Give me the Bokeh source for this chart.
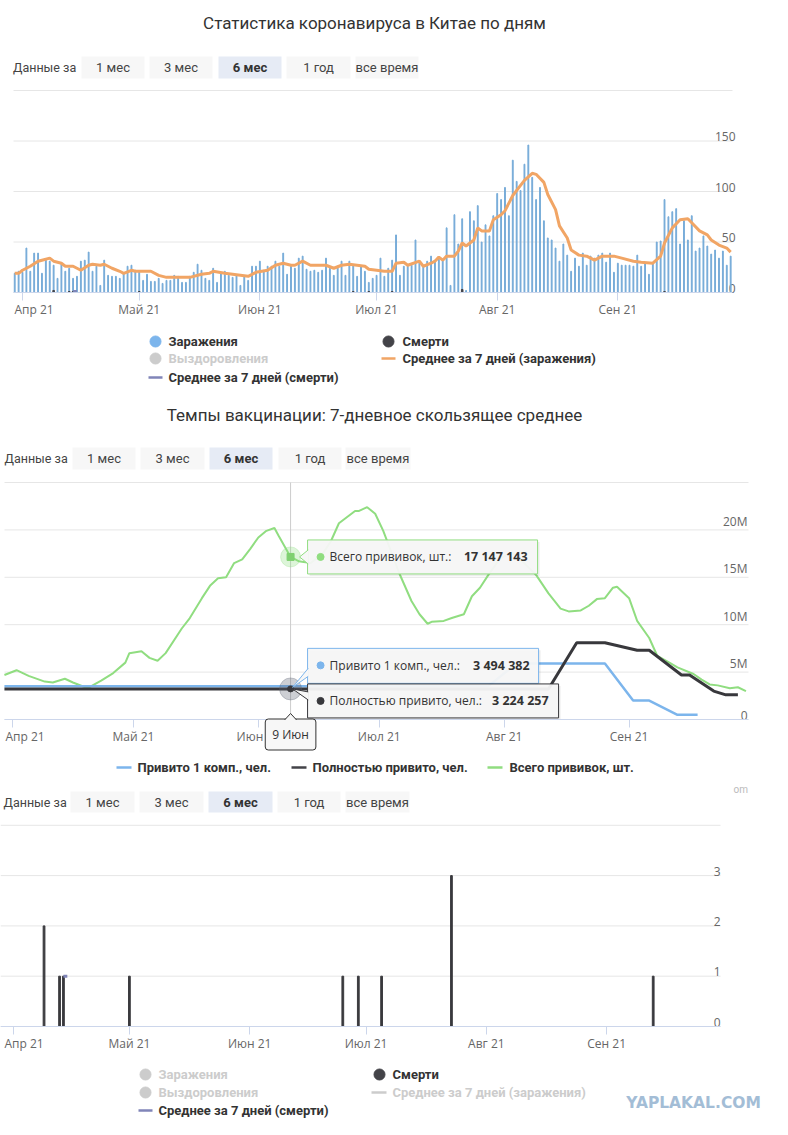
import pandas as pd
from bokeh.plotting import figure
from bokeh.models import Range1d, FixedTicker, Label, LinearAxis
from bokeh.core.properties import value
from bokeh.embed import file_html
from bokeh.resources import INLINE

# ======================= DATA =======================
BASE_DATE = "2021-04-01"
month_starts = ["2021-04-01", "2021-05-01", "2021-06-01", "2021-07-01", "2021-08-01", "2021-09-01"]
month_labels = ["Апр 21", "Май 21", "Июн 21", "Июл 21", "Авг 21", "Сен 21"]

title_cases = "Статистика коронавируса в Китае по дням"
title_vacc = "Темпы вакцинации: 7-дневное скользящее среднее"
period_caption = "Данные за"
period_labels = ["1 мес", "3 мес", "6 мес", "1 год", "все время"]
period_selected = "6 мес"

# daily new cases, one value per day starting at cases_start
cases_start = "2021-03-30"
cases = [19, 21, 20, 44, 21, 39, 39, 19, 32, 31, 27, 14, 29, 21, 24, 14, 16, 31, 32, 40,
         21, 26, 7, 32, 17, 16, 16, 14, 19, 26, 27, 22, 21, 12, 18, 11, 11, 14, 9, 12,
         12, 17, 16, 10, 10, 16, 20, 28, 22, 14, 12, 24, 10, 19, 21, 17, 15, 17, 7, 16,
         12, 26, 26, 31, 22, 26, 26, 31, 26, 39, 18, 26, 24, 34, 36, 23, 21, 22, 20, 22,
         34, 24, 17, 26, 31, 17, 31, 27, 16, 26, 21, 10, 14, 17,
         34, 16, 24, 32, 57, 17, 26, 26, 27, 52, 31, 26, 31, 36, 31, 33, 32, 64, 7, 77,
         48, 73, 2, 80, 71, 86, 50, 67, 56, 76, 98, 92, 104, 76, 131, 110, 101, 127, 146, 114,
         92, 104, 71, 54, 52, 44, 31, 48, 37, 21, 34, 26, 39, 27, 36, 34, 37, 39, 30, 39,
         20, 29, 27, 27, 27, 26, 37, 26, 29, 18, 29, 50, 51, 92, 75, 80, 83, 48, 71, 52,
         76, 41, 44, 56, 46, 38, 42, 34, 41, 27, 36]
# 7-day average of cases (day index from cases_start, value)
cases_avg_idx = [0, 1, 2, 4, 6, 7, 9, 10, 12, 13, 15, 17, 19, 20, 22, 23, 25, 27, 28, 30,
                 31, 33, 35, 37, 39, 42, 45, 48, 50, 51, 54, 56, 58, 60, 62, 65, 67, 69, 71, 72,
                 74, 76, 78, 80, 82, 84, 86, 88, 90, 91, 93, 95, 96, 97, 98, 100, 101, 104, 105, 107,
                 108, 109, 110, 111, 113, 114, 115, 116, 118, 119, 120, 122, 123, 125, 126, 128, 130, 131, 133, 134,
                 136, 137, 139, 140, 142, 143, 145, 147, 149, 151, 154, 156, 159, 161, 164, 166, 167, 169, 171, 173,
                 174, 176, 178, 179, 181, 183, 184]
cases_avg = [19, 19, 22, 26, 31, 32, 34, 31, 29, 26, 26, 22, 27, 28, 27, 28, 24, 21, 19, 22,
             21, 21, 21, 17, 15, 15, 15, 18, 19, 21, 19, 18, 17, 16, 20, 22, 27, 29, 27, 27,
             31, 27, 27, 27, 24, 27, 28, 27, 26, 23, 22, 21, 21, 21, 29, 30, 27, 31, 26, 29,
             31, 35, 32, 36, 36, 41, 49, 46, 52, 64, 61, 61, 72, 77, 81, 96, 106, 111, 118, 117,
             109, 97, 82, 66, 54, 42, 37, 36, 32, 36, 36, 34, 31, 30, 29, 36, 49, 64, 72, 73,
             69, 61, 57, 52, 47, 44, 40]
deaths_dates = ["2021-04-09", "2021-04-13", "2021-04-14", "2021-05-01", "2021-06-25",
                "2021-06-29", "2021-07-05", "2021-07-23", "2021-09-13"]
deaths = [2, 1, 1, 1, 1, 1, 1, 3, 1]
deaths_avg_dates = ["2021-04-14", "2021-04-15"]
deaths_avg = [1.0, 1.0]
cases_ticks = [0, 50, 100, 150, 200]
cases_tick_labels = ["0", "50", "100", "150", ""]
deaths_ticks = [0, 1, 2, 3, 4]
deaths_tick_labels = ["0", "1", "2", "3", ""]

cases_legend = ["Заражения", "Выздоровления", "Среднее за 7 дней (смерти)",
                "Смерти", "Среднее за 7 дней (заражения)"]

# vaccination, 7-day moving average, millions (x = days since 1 Apr 2021)
vac_names = ["Привито 1 комп., чел.", "Полностью привито, чел.", "Всего прививок, шт."]
vac_total_day = [-2, 1, 4, 8, 10, 13, 15, 18, 19, 22, 25, 28, 29, 32, 34, 36, 38, 42, 44, 47,
                 49, 51, 53, 55, 57, 59, 61, 63, 65, 66, 69, 71, 74, 77, 79, 81, 85, 86, 88, 90,
                 92, 96, 99, 101, 103, 104, 107, 109, 112, 114, 116, 118, 121, 124, 127, 130, 133, 136, 138, 141,
                 143, 145, 147, 149, 150, 153, 155, 158, 160, 163, 165, 169, 171, 173, 175, 178, 180, 182]
vac_total = [4.7, 5.2, 4.6, 4.0, 3.9, 4.3, 3.9, 3.4, 3.4, 4.1, 4.9, 6.0, 7.0, 7.2, 6.5, 6.2, 7.0, 9.6, 10.7, 12.8,
             14.1, 14.9, 15.0, 16.5, 16.9, 18.0, 19.2, 19.9, 20.2, 19.4, 17.147143, 16.7, 16.5, 17.5, 18.8, 20.7, 22.0, 22.0, 22.4, 21.7,
             19.9, 15.4, 12.5, 11.1, 10.1, 10.3, 10.4, 10.7, 11.1, 13.0, 13.9, 15.2, 17.0, 17.6, 16.5, 15.2, 13.3, 11.7, 11.4, 11.5,
             12.0, 12.7, 12.8, 13.9, 14.0, 12.8, 10.4, 8.6, 6.7, 6.0, 5.5, 4.8, 4.2, 3.7, 3.6, 3.3, 3.4, 3.0]
vac_first_day = [-2, 118, 125, 147, 154, 158, 165, 170]
vac_first = [3.494382, 3.494382, 5.9, 5.9, 2.0, 2.0, 0.5, 0.5]
vac_full_day = [-2, 133, 140, 147, 155, 158, 166, 168, 174, 177, 180]
vac_full = [3.224257, 3.224257, 8.1, 8.1, 7.3, 7.3, 4.7, 4.7, 3.0, 2.6, 2.6]
vac_ticks = [0, 5, 10, 15, 20, 25]
vac_tick_labels = ["0", "5M", "10M", "15M", "20M", ""]

tip_date = "2021-06-09"
tip_date_label = "9 Июн"
tip_total = 17147143
tip_first = 3494382
tip_full = 3224257

watermark = "YAPLAKAL.COM"

# ======================= STYLE / LAYOUT =======================
C_BAR = "#76abd8"
C_BLUE = "#7cb5ec"
C_DARK = "#434348"
C_ORANGE = "#f1a565"
C_PURPLE = "#8085b8"
C_GREEN = "#90dd80"
C_GRAY = "#cccccc"
F_UI = "Roboto"
F_AX = "Open Sans"

# page box drawn by the single figure (page pixel coordinates)
P_L, P_R, P_T, P_B = 0, 786, 0, 1128


def day(s):
    return (pd.Timestamp(s) - pd.Timestamp(BASE_DATE)).days


month_pos = [day(m) for m in month_starts]

p = figure(frame_width=P_R - P_L, frame_height=P_B - P_T,
           x_range=Range1d(P_L, P_R), y_range=Range1d(P_B, P_T),
           min_border=0, x_axis_location=None, y_axis_location=None, title=None,
           toolbar_location=None, output_backend="svg")
p.outline_line_color = None
p.grid.visible = False

# each chart: (x page of day 0, px per day, y page of value 0, px per unit)
bands = {
    "t": (22.0, 3.891, 292.0, 1.01),
    "m": (12.0, 4.03, 719.0, 9.48),
    "b": (12.5, 3.88, 1026.0, 50.3),
}
xr, yr = {}, {}
for n, (x0, ppd_, y0, ppu_) in bands.items():
    xr[n] = Range1d((P_L - x0) / ppd_, (P_R - x0) / ppd_)
    yr[n] = Range1d(-(P_B - y0) / ppu_, (y0 - P_T) / ppu_)
p.extra_x_ranges = xr
p.extra_y_ranges = yr


def dx(n, page_x):
    x0, ppd_, _, _ = bands[n]
    return (page_x - x0) / ppd_


def dy(n, px_below_zero):
    return -px_below_zero / bands[n][3]


def R(n):
    return dict(x_range_name=n, y_range_name=n)


def chart_frame(n, left_px, right_px, label_px, first_label_px, yticks, ylabels):
    lo, hi = dx(n, left_px), dx(n, right_px)
    k = len(yticks)
    p.segment(x0=[lo] * k, x1=[hi] * k, y0=yticks, y1=yticks, line_color="#e6e6e6",
              line_width=1, level="underlay", **R(n))
    # first month label is kept inside the plot (as the original does), others centred on ticks
    overrides = dict(zip(month_pos, month_labels))
    overrides[month_pos[0]] = ""
    ax = LinearAxis(fixed_location=0, ticker=FixedTicker(ticks=month_pos),
                    major_label_overrides=overrides, bounds=(lo, hi), **R(n))
    ax.axis_line_color = "#ccd6eb"
    ax.major_tick_line_color = "#ccd6eb"
    ax.major_tick_in = 0
    ax.major_tick_out = 8
    ax.minor_tick_line_color = None
    ax.major_label_standoff = 0
    ax.major_label_text_font = F_AX
    ax.major_label_text_font_size = "12px"
    ax.major_label_text_color = "#666666"
    p.add_layout(ax, "below")
    p.text(x=[dx(n, first_label_px)], y=[dy(n, 8)], text=[month_labels[0]], text_font=value(F_AX),
           text_font_size="12px", text_color="#666666", text_align="left", text_baseline="top", **R(n))
    keep = [(t, s) for t, s in zip(yticks, ylabels) if s]
    p.text(x=[dx(n, label_px)] * len(keep), y=[t for t, _ in keep], text=[s for _, s in keep],
           text_font=value(F_AX), text_font_size="12px", text_color="#666666",
           text_align="right", text_baseline="bottom", **R(n))


def txt(x, y, s, size="13px", color="#333333", bold=False, align="left", font=F_UI):
    p.text(x=[x], y=[y], text=[s], text_font=value(font), text_font_size=size, text_color=color,
           text_font_style="bold" if bold else "normal", text_align=align, text_baseline="middle")


def period_bar(cap_x, boxes, y0, y1):
    yc = (y0 + y1) / 2
    txt(cap_x, yc, period_caption, size="12.5px", color="#444444")
    for (l, r), lab in zip(boxes, period_labels):
        sel = lab == period_selected
        p.quad(left=l, right=r, top=y0, bottom=y1, fill_color="#e6ebf5" if sel else "#f7f7f7", line_color=None)
        txt((l + r) / 2, yc, lab, bold=sel, align="center", color="#333333" if sel else "#444444")


def leg_dot(x, y, color):
    p.scatter(x=[x], y=[y], size=11, color=color)


def leg_line(x0, x1, y, color):
    p.segment(x0=[x0], y0=[y], x1=[x1], y1=[y], line_color=color, line_width=2.5)


LEG = "13px"

# ---------- header 1 ----------
txt(374, 22, title_cases, size="17px", align="center")
period_bar(12.5, [(81, 144), (149, 212), (218, 281), (286, 350), (355, 418)], 56, 78)

# ---------- cases chart ----------
chart_frame("t", 13, 732, 735, 14, cases_ticks, cases_tick_labels)
c0 = day(cases_start)
p.vbar(x=[c0 + i for i in range(len(cases))], top=cases, bottom=0, width=0.22, color=C_BAR, **R("t"))
p.vbar(x=[day(d) for d in deaths_dates], top=deaths, bottom=0, width=0.4, color=C_DARK, **R("t"))
p.line(x=[c0 + i for i in cases_avg_idx], y=cases_avg, line_color=C_ORANGE, line_width=3, **R("t"))
p.line(x=[day(d) for d in deaths_avg_dates], y=deaths_avg, line_color=C_PURPLE, line_width=3, **R("t"))

# ---------- legend 1 + header 2 ----------
leg_dot(155, 341, C_BLUE)
txt(168, 341, cases_legend[0], size=LEG, bold=True)
leg_dot(155, 358, C_GRAY)
txt(168, 358, cases_legend[1], size=LEG, bold=True, color=C_GRAY)
leg_line(148, 162, 377, C_PURPLE)
txt(168, 377, cases_legend[2], size=LEG, bold=True)
leg_dot(388, 341, C_DARK)
txt(402, 341, cases_legend[3], size=LEG, bold=True)
leg_line(381, 395, 358, C_ORANGE)
txt(402, 358, cases_legend[4], size=LEG, bold=True)
txt(374, 414, title_vacc, size="17px", align="center")
period_bar(4, [(72, 135), (140, 204), (209, 272), (278, 341), (345, 410)], 447, 469)

# ---------- vaccination chart ----------
chart_frame("m", 4, 748, 747, 5, vac_ticks, vac_tick_labels)
tip_d = day(tip_date)
p.segment(x0=[tip_d], x1=[tip_d], y0=[0], y1=[25], line_color="#cccccc", line_width=1, level="underlay", **R("m"))
p.line(x=vac_total_day, y=vac_total, line_color=C_GREEN, line_width=2, **R("m"))
p.line(x=vac_first_day, y=vac_first, line_color=C_BLUE, line_width=2.5, **R("m"))
p.line(x=vac_full_day, y=vac_full, line_color="#38383c", line_width=3, **R("m"))

PPD, PPV = bands["m"][1], bands["m"][3]


def ox(px):
    return tip_d + px / PPD


def oy(v, px):
    return v - px / PPV


g, b, k = tip_total / 1e6, tip_first / 1e6, tip_full / 1e6
p.scatter(x=[tip_d], y=[g], size=20, color=C_GREEN, alpha=0.3, **R("m"))
p.scatter(x=[tip_d], y=[g], size=7, marker="square", color="#7fd070", **R("m"))
p.scatter(x=[tip_d], y=[k], size=22, color="#5a6070", alpha=0.3, **R("m"))
p.scatter(x=[tip_d], y=[k], size=6, color="#38383c", **R("m"))


def fmt(num):
    return f"{num:,}".replace(",", " ")


def tooltip(v, top, bottom, right, color, label, num, bdy, vright, pointer):
    p.quad(left=ox(19), right=ox(right + 2), top=oy(v, top + 2), bottom=oy(v, bottom + 2),
           fill_color="#000000", fill_alpha=0.07, line_color=None, **R("m"))
    p.quad(left=ox(17), right=ox(right), top=oy(v, top), bottom=oy(v, bottom),
           fill_color="#f7f7f7", fill_alpha=0.95, line_color=color, line_width=1, **R("m"))
    xs = [ox(a) for a, _ in pointer]
    ys = [oy(v, c) for _, c in pointer]
    p.patch(x=xs, y=ys, fill_color="#f7f7f7", line_color=None, **R("m"))
    p.line(x=xs, y=ys, line_color=color, line_width=1, **R("m"))
    p.scatter(x=[ox(30)], y=[oy(v, bdy)], size=7, color=color, **R("m"))
    p.text(x=[ox(39)], y=[oy(v, bdy)], text=[label + ":"], text_font=value(F_AX), text_font_size="12px",
           text_color="#333333", text_align="left", text_baseline="middle", **R("m"))
    p.text(x=[ox(vright)], y=[oy(v, bdy)], text=[fmt(num)], text_font=value(F_AX), text_font_size="12.5px",
           text_font_style="bold", text_color="#333333", text_align="right", text_baseline="middle", **R("m"))


tooltip(g, -17, 17, 247, C_GREEN, vac_names[2], tip_total, 0, 237, [(17.6, -7), (9, 0), (17.6, 7)])
tooltip(b, -38, -3, 248, C_BLUE, vac_names[0], tip_first, -21, 239, [(17.6, -18), (2, 1), (17.6, -10)])
tooltip(k, -5, 29, 268, "#38383c", vac_names[1], tip_full, 12, 258, [(17.6, 3), (2, 0), (17.6, 11)])

p.add_layout(Label(x=tip_d, y=oy(0, 15), text=tip_date_label, text_align="center", text_baseline="middle",
                   text_font="Open Sans", text_font_size="12px", text_color="#333333",
                   background_fill_color="#f7f7f7", border_line_color="#333333", border_line_width=1,
                   padding=7, border_radius=3, **R("m")))
dxs = [ox(-6), ox(0), ox(6)]
dys = [oy(0, 0.5), oy(0, -6), oy(0, 0.5)]
p.patch(x=dxs, y=dys, fill_color="#f7f7f7", line_color=None, level="overlay", **R("m"))
p.line(x=dxs, y=dys, line_color="#333333", line_width=1, level="overlay", **R("m"))

# ---------- legend 2 + header 3 ----------
leg_line(116, 131, 767, C_BLUE)
txt(137, 767, vac_names[0], size=LEG, bold=True)
leg_line(291, 306, 767, C_DARK)
txt(312, 767, vac_names[1], size=LEG, bold=True)
leg_line(487, 502, 767, C_GREEN)
txt(509, 767, vac_names[2], size=LEG, bold=True)
txt(733, 789, "om", size="10px", color="#bbbbbb")
period_bar(3, [(70, 134), (139, 203), (208, 272), (277, 340), (345, 409)], 791, 812)

# ---------- deaths chart ----------
chart_frame("b", 0, 720, 720, 4, deaths_ticks, deaths_tick_labels)
p.vbar(x=[day(d) for d in deaths_dates], top=deaths, bottom=0, width=0.45, color="#3a3a3e", **R("b"))
p.line(x=[day(d) for d in deaths_avg_dates], y=deaths_avg, line_color=C_PURPLE, line_width=3, **R("b"))

# ---------- legend 3 ----------
leg_dot(145, 1074, C_GRAY)
txt(158, 1074, cases_legend[0], size=LEG, bold=True, color=C_GRAY)
leg_dot(145, 1092, C_GRAY)
txt(158, 1092, cases_legend[1], size=LEG, bold=True, color=C_GRAY)
leg_line(138, 152, 1110, C_PURPLE)
txt(158, 1110, cases_legend[2], size=LEG, bold=True)
leg_dot(379, 1074, C_DARK)
txt(392, 1074, cases_legend[3], size=LEG, bold=True)
leg_line(371, 386, 1092, C_GRAY)
txt(392, 1092, cases_legend[4], size=LEG, bold=True, color=C_GRAY)
txt(693, 1102, watermark, size="15.5px", bold=True, color="#a3bdd6", align="center", font="DejaVu Sans")

open("out.html", "w").write(file_html(p, INLINE))
